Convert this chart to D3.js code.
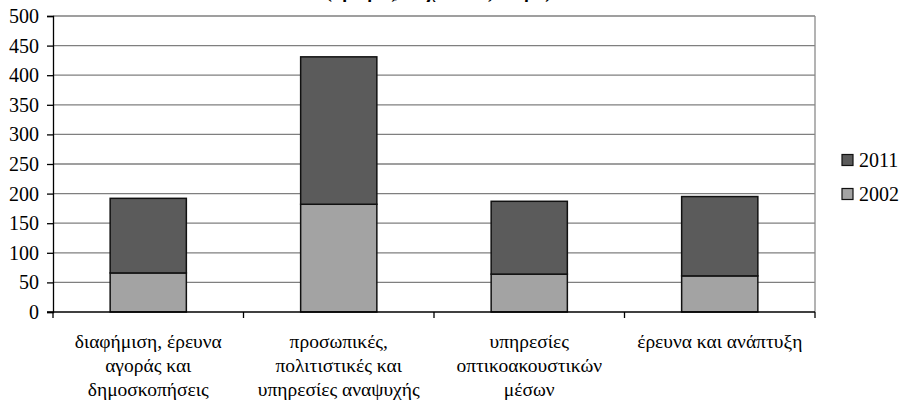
<!DOCTYPE html>
<html><head><meta charset="utf-8">
<script src="https://cdn.jsdelivr.net/npm/d3@7"></script>
<style>body{margin:0;background:#fff}svg{display:block}</style>
</head><body>
<script>
const categories = [
  ["διαφήμιση, έρευνα","αγοράς και","δημοσκοπήσεις"],
  ["προσωπικές,","πολιτιστικές και","υπηρεσίες αναψυχής"],
  ["υπηρεσίες","οπτικοακουστικών","μέσων"],
  ["έρευνα και ανάπτυξη"]
];
const series = ["2002","2011"];
const values2002 = [66, 182, 64, 61];
const values2011 = [126, 249, 123, 134];
const yTicks = [0,50,100,150,200,250,300,350,400,450,500];
const title = "(αριθμός, σε χιλιάδες άτομα)";

const FONT = "'Liberation Serif'";
const W=902,H=402, L=53, R=815, T=16, B=312;
const svg=d3.select("body").append("svg").attr("width",W).attr("height",H);
const x=d3.scaleBand().domain(d3.range(categories.length)).range([L,R]).paddingInner(0.6).paddingOuter(0.3);
const xb=d3.scaleBand().domain(d3.range(categories.length)).range([L,R]);
const y=d3.scaleLinear().domain([0,500]).range([B,T]);
const colors={"2002":"#a3a3a3","2011":"#5b5b5b"};

svg.append("text").attr("x",438.5).attr("y",-2).attr("text-anchor","middle")
  .attr("font-size",18.5).attr("font-weight","bold").style("font-family",FONT).text(title);

// gridlines
svg.append("g").selectAll("line").data(yTicks.filter(d=>d>0)).join("line")
  .attr("x1",L).attr("x2",R).attr("y1",d=>y(d)).attr("y2",d=>y(d))
  .attr("stroke","#7f7f7f").attr("stroke-width",1.3);
svg.append("line").attr("x1",R).attr("x2",R).attr("y1",T).attr("y2",B).attr("stroke","#8a8a8a").attr("stroke-width",1.3);

// stacked bars
const stack=d3.stack().keys(series)(categories.map((c,i)=>({"2002":values2002[i],"2011":values2011[i]})));
stack.forEach(layer=>{
  svg.append("g").selectAll("rect").data(layer).join("rect")
    .attr("x",(d,i)=>x(i)).attr("width",x.bandwidth())
    .attr("y",d=>y(d[1])).attr("height",d=>y(d[0])-y(d[1]))
    .attr("fill",colors[layer.key]).attr("stroke","#111").attr("stroke-width",1.5);
});

// axes
const ya=svg.append("g").attr("transform",`translate(${L},0)`)
  .call(d3.axisLeft(y).tickValues(yTicks).tickSize(6).tickPadding(8));
ya.select(".domain").attr("stroke","#000").attr("stroke-width",1.3);
ya.selectAll(".tick line").attr("stroke","#000").attr("stroke-width",1.3);
ya.selectAll(".tick text").attr("font-size",20).style("font-family",FONT).attr("fill","#000");

svg.append("line").attr("x1",L-6).attr("x2",R).attr("y1",B).attr("y2",B).attr("stroke","#000").attr("stroke-width",1.3);
svg.append("g").selectAll("line").data(d3.range(categories.length+1)).join("line")
  .attr("x1",i=>i<categories.length?xb(i):R).attr("x2",i=>i<categories.length?xb(i):R)
  .attr("y1",B).attr("y2",B+6).attr("stroke","#000").attr("stroke-width",1.3);

const lab=svg.append("g").selectAll("text").data(categories).join("text")
  .attr("text-anchor","middle").attr("font-size",19.5).attr("fill","#000").style("font-family",FONT)
  .attr("transform",(d,i)=>`translate(${xb(i)+xb.bandwidth()/2},0)`);
lab.selectAll("tspan").data(d=>d).join("tspan").attr("x",0).attr("y",(d,j)=>348+j*24).text(d=>d);

// legend
const leg=[{k:"2011",y:154.5},{k:"2002",y:188.5}];
const lg=svg.append("g").selectAll("g").data(leg).join("g").attr("transform",d=>`translate(842,${d.y})`);
lg.append("rect").attr("width",11).attr("height",11).attr("fill",d=>colors[d.k]).attr("stroke","#111").attr("stroke-width",1.2);
lg.append("text").attr("x",17).attr("y",12.5).attr("font-size",20).style("font-family",FONT).text(d=>d.k);
</script>
</body></html>
